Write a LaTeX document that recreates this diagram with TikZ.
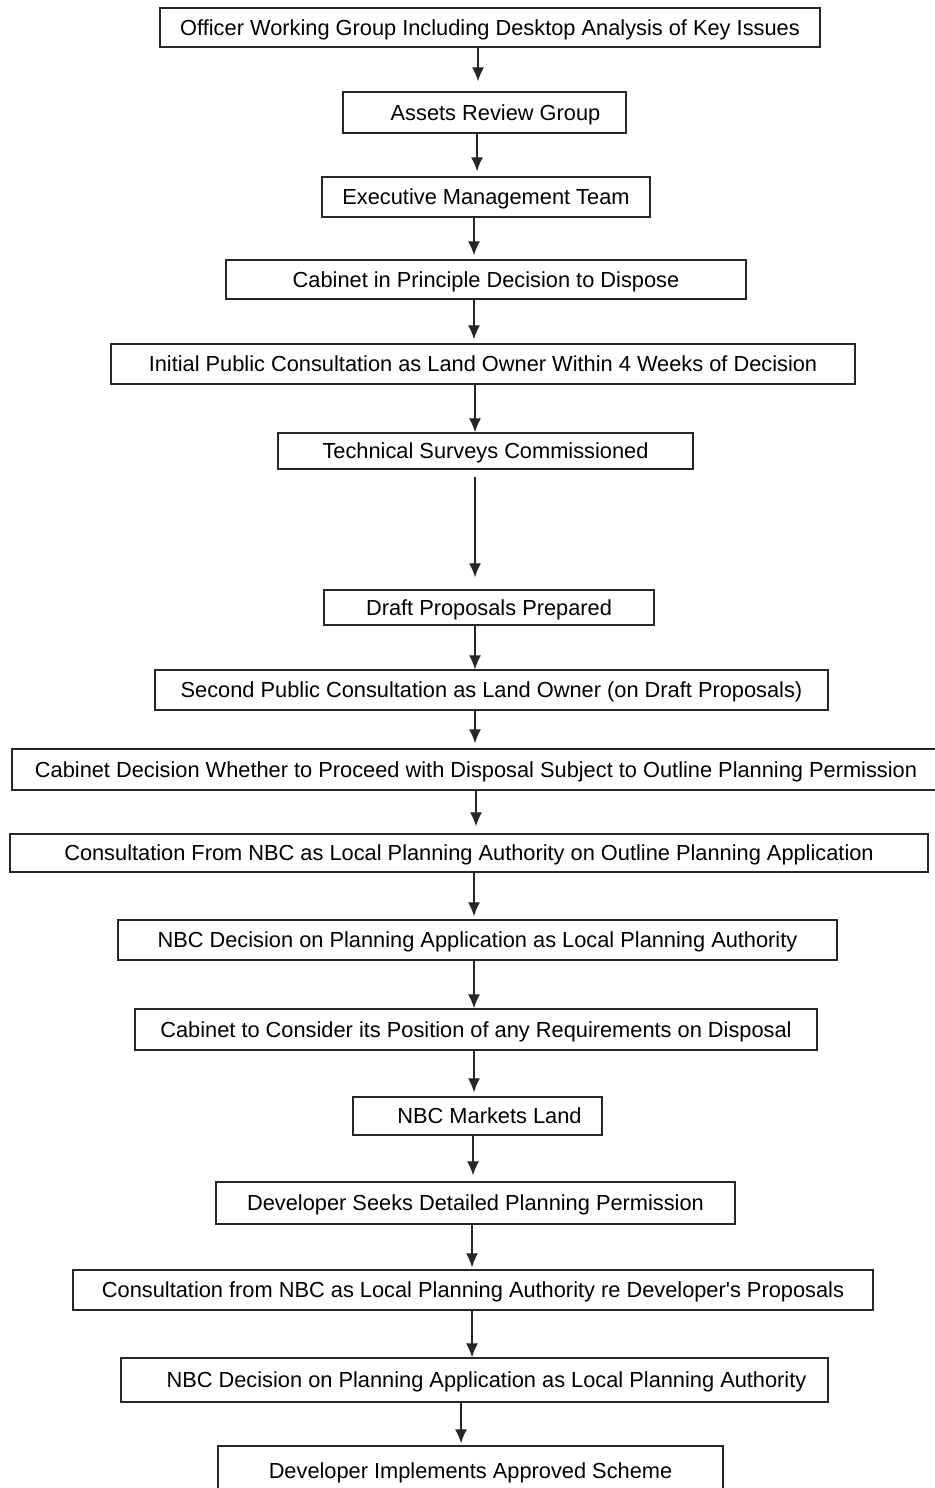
\documentclass[tikz,border=0pt]{standalone}
\usepackage{fontspec}
\setmainfont{Liberation Sans}
\usetikzlibrary{arrows.meta}

\tikzset{
    stage/.style 2 args={draw=black!85, line width=0.7pt, inner sep=0pt,
        minimum width=#1*0.5pt, minimum height=#2*0.5pt, text depth=0pt,
        font=\fontsize{10.9}{13}\selectfont},
    flow/.style={-{Latex[length=7pt,width=6pt]}, line width=0.65pt,
        draw=black!85, shorten >=2.5pt, shorten <=0pt},
}

\begin{document}
\begin{tikzpicture}[x=0.5pt, y=-0.5pt]
    % Page
    \useasboundingbox (0,0) rectangle (935,1488);

    % Stages
    \node[stage={660}{39}] (officer) at (490,27.5) {Officer Working Group Including Desktop Analysis of Key Issues};
    \node[stage={283}{41}] (assets) at (484.5,112.5) {\hspace{11pt}Assets Review Group};
    \node[stage={328}{40}] (exec) at (486,197) {Executive Management Team};
    \node[stage={520}{39}] (principle) at (486,279.5) {Cabinet in Principle Decision to Dispose};
    \node[stage={744}{40}] (initial) at (483,364) {Initial Public Consultation as Land Owner Within 4 Weeks of Decision};
    \node[stage={415}{36}] (surveys) at (485.5,451) {Technical Surveys Commissioned};
    \node[stage={330}{35}] (draft) at (489,607.5) {Draft Proposals Prepared};
    \node[stage={673}{40}] (second) at (491.5,690) {Second Public Consultation as Land Owner (on Draft Proposals)};
    \node[stage={928}{41}] (proceed) at (476,769.5) {Cabinet Decision Whether to Proceed with Disposal Subject to Outline Planning Permission};
    \node[stage={918}{38}] (outline) at (469,853) {Consultation From NBC as Local Planning Authority on Outline Planning Application};
    \node[stage={719}{40}] (decisionA) at (477.5,940) {NBC Decision on Planning Application as Local Planning Authority};
    \node[stage={682}{41}] (position) at (476,1029.5) {Cabinet to Consider its Position of any Requirements on Disposal};
    \node[stage={249}{38}] (markets) at (477.5,1116) {\hspace{12pt}NBC Markets Land};
    \node[stage={519}{42}] (seeks) at (475.5,1203) {Developer Seeks Detailed Planning Permission};
    \node[stage={800}{40}] (consultB) at (473,1290) {Consultation from NBC as Local Planning Authority re Developer\textquotesingle s Proposals};
    \node[stage={707}{44}] (decisionB) at (474.5,1380) {\hspace{12pt}NBC Decision on Planning Application as Local Planning Authority};
    \node[stage={505}{50}] (implements) at (470.5,1471) {Developer Implements Approved Scheme};

    % Connectors
    \draw[flow, shorten >=5pt] (officer.south -| 478,0) -- (assets.north -| 478,0);
    \draw[flow] (assets.south -| 477,0) -- (exec.north -| 477,0);
    \draw[flow, shorten >=2pt] (exec.south -| 474,0) -- (principle.north -| 474,0);
    \draw[flow, shorten >=2pt] (principle.south -| 474,0) -- (initial.north -| 474,0);
    \draw[flow, shorten >=0pt] (initial.south -| 475,0) -- (surveys.north -| 475,0);
    \draw[flow, shorten <=3.5pt, shorten >=6pt] (surveys.south -| 475,0) -- (draft.north -| 475,0);
    \draw[flow, shorten >=0pt] (draft.south -| 475,0) -- (second.north -| 475,0);
    \draw[flow] (second.south -| 475,0) -- (proceed.north -| 475,0);
    \draw[flow, shorten >=3.5pt] (proceed.south -| 476,0) -- (outline.north -| 476,0);
    \draw[flow, shorten >=1.5pt] (outline.south -| 474,0) -- (decisionA.north -| 474,0);
    \draw[flow, shorten >=0pt] (decisionA.south -| 474,0) -- (position.north -| 474,0);
    \draw[flow, shorten >=2pt] (position.south -| 474,0) -- (markets.north -| 474,0);
    \draw[flow, shorten >=3pt] (markets.south -| 473,0) -- (seeks.north -| 473,0);
    \draw[flow, shorten >=1pt] (seeks.south -| 472,0) -- (consultB.north -| 472,0);
    \draw[flow, shorten >=0pt] (consultB.south -| 472,0) -- (decisionB.north -| 472,0);
    \draw[flow, shorten >=1pt] (decisionB.south -| 461,0) -- (implements.north -| 461,0);

\end{tikzpicture}
\end{document}
